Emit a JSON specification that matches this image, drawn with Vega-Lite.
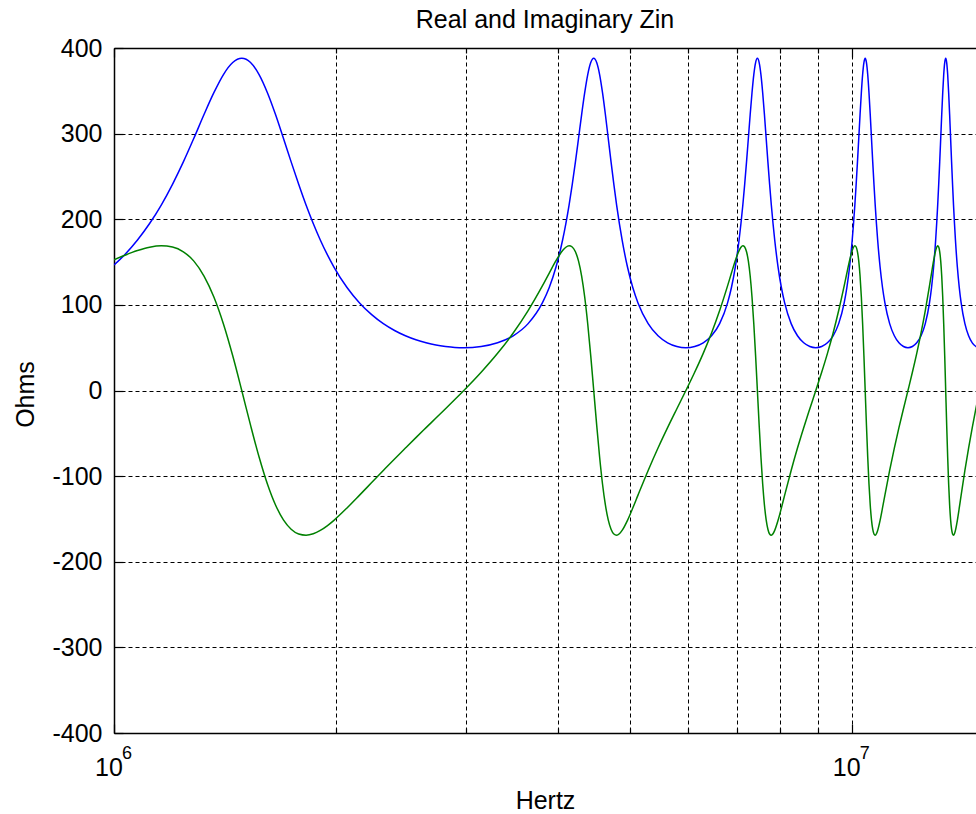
{
  "$schema": "https://vega.github.io/schema/vega-lite/v6.json",
  "width": 862,
  "height": 685,
  "autosize": {"type": "none"},
  "padding": {"left": 114, "top": 48, "right": 0, "bottom": 81},
  "background": "white",
  "title": {"text": "Real and Imaginary Zin", "fontSize": 25, "fontWeight": "normal", "color": "black", "anchor": "middle", "frame": "group", "baseline": "alphabetic", "offset": 8, "dy": 25},
  "config": {"view": {"stroke": null}, "font": "Liberation Sans"},
  "data": {"values": [
    {"f": 1000000, "re": 146.5, "im": 152.7},
    {"f": 1034700, "re": 158.9, "im": 158.0},
    {"f": 1076100, "re": 175.8, "im": 163.4},
    {"f": 1117500, "re": 195.0, "im": 167.3},
    {"f": 1158900, "re": 216.6, "im": 169.0},
    {"f": 1200300, "re": 240.8, "im": 167.6},
    {"f": 1241700, "re": 267.0, "im": 162.0},
    {"f": 1283100, "re": 294.6, "im": 151.1},
    {"f": 1324400, "re": 322.3, "im": 133.7},
    {"f": 1365800, "re": 347.8, "im": 109.2},
    {"f": 1407200, "re": 369.0, "im": 77.7},
    {"f": 1448600, "re": 383.0, "im": 40.5},
    {"f": 1490000, "re": 387.9, "im": 0},
    {"f": 1531400, "re": 383.0, "im": -40.5},
    {"f": 1572800, "re": 369.0, "im": -77.7},
    {"f": 1614200, "re": 347.8, "im": -109.2},
    {"f": 1655600, "re": 322.3, "im": -133.7},
    {"f": 1696900, "re": 294.6, "im": -151.1},
    {"f": 1738300, "re": 267.0, "im": -162.0},
    {"f": 1779700, "re": 240.8, "im": -167.6},
    {"f": 1821100, "re": 216.6, "im": -169.0},
    {"f": 1862500, "re": 195.0, "im": -167.3},
    {"f": 1903900, "re": 175.8, "im": -163.4},
    {"f": 1945300, "re": 158.9, "im": -158.0},
    {"f": 1986700, "re": 144.2, "im": -151.6},
    {"f": 2069400, "re": 120.3, "im": -137.2},
    {"f": 2152200, "re": 102.3, "im": -122.2},
    {"f": 2235000, "re": 88.6, "im": -107.5},
    {"f": 2317800, "re": 78.1, "im": -93.4},
    {"f": 2400600, "re": 70.1, "im": -79.9},
    {"f": 2483300, "re": 63.9, "im": -67.2},
    {"f": 2566100, "re": 59.2, "im": -55.0},
    {"f": 2648900, "re": 55.7, "im": -43.4},
    {"f": 2731700, "re": 53.1, "im": -32.2},
    {"f": 2814400, "re": 51.4, "im": -21.3},
    {"f": 2897200, "re": 50.3, "im": -10.6},
    {"f": 2980000, "re": 50.0, "im": 0},
    {"f": 3145600, "re": 51.4, "im": 21.3},
    {"f": 3311100, "re": 55.7, "im": 43.4},
    {"f": 3476700, "re": 63.9, "im": 67.2},
    {"f": 3642200, "re": 78.1, "im": 93.4},
    {"f": 3807800, "re": 102.3, "im": 122.2},
    {"f": 3890600, "re": 120.3, "im": 137.2},
    {"f": 3973300, "re": 144.2, "im": 151.6},
    {"f": 4056100, "re": 175.8, "im": 163.4},
    {"f": 4097500, "re": 195.0, "im": 167.3},
    {"f": 4138900, "re": 216.6, "im": 169.0},
    {"f": 4180300, "re": 240.8, "im": 167.6},
    {"f": 4221700, "re": 267.0, "im": 162.0},
    {"f": 4263100, "re": 294.6, "im": 151.1},
    {"f": 4304400, "re": 322.3, "im": 133.7},
    {"f": 4345800, "re": 347.8, "im": 109.2},
    {"f": 4387200, "re": 369.0, "im": 77.7},
    {"f": 4428600, "re": 383.0, "im": 40.5},
    {"f": 4470000, "re": 387.9, "im": 0},
    {"f": 4511400, "re": 383.0, "im": -40.5},
    {"f": 4552800, "re": 369.0, "im": -77.7},
    {"f": 4594200, "re": 347.8, "im": -109.2},
    {"f": 4635600, "re": 322.3, "im": -133.7},
    {"f": 4676900, "re": 294.6, "im": -151.1},
    {"f": 4718300, "re": 267.0, "im": -162.0},
    {"f": 4759700, "re": 240.8, "im": -167.6},
    {"f": 4801100, "re": 216.6, "im": -169.0},
    {"f": 4842500, "re": 195.0, "im": -167.3},
    {"f": 4883900, "re": 175.8, "im": -163.4},
    {"f": 4966700, "re": 144.2, "im": -151.6},
    {"f": 5049400, "re": 120.3, "im": -137.2},
    {"f": 5132200, "re": 102.3, "im": -122.2},
    {"f": 5297800, "re": 78.1, "im": -93.4},
    {"f": 5463300, "re": 63.9, "im": -67.2},
    {"f": 5628900, "re": 55.7, "im": -43.4},
    {"f": 5794400, "re": 51.4, "im": -21.3},
    {"f": 5960000, "re": 50.0, "im": 0},
    {"f": 6125600, "re": 51.4, "im": 21.3},
    {"f": 6291100, "re": 55.7, "im": 43.4},
    {"f": 6456700, "re": 63.9, "im": 67.2},
    {"f": 6622200, "re": 78.1, "im": 93.4},
    {"f": 6787800, "re": 102.3, "im": 122.2},
    {"f": 6870600, "re": 120.3, "im": 137.2},
    {"f": 6953300, "re": 144.2, "im": 151.6},
    {"f": 7036100, "re": 175.8, "im": 163.4},
    {"f": 7077500, "re": 195.0, "im": 167.3},
    {"f": 7118900, "re": 216.6, "im": 169.0},
    {"f": 7160300, "re": 240.8, "im": 167.6},
    {"f": 7201700, "re": 267.0, "im": 162.0},
    {"f": 7243100, "re": 294.6, "im": 151.1},
    {"f": 7284400, "re": 322.3, "im": 133.7},
    {"f": 7325800, "re": 347.8, "im": 109.2},
    {"f": 7367200, "re": 369.0, "im": 77.7},
    {"f": 7408600, "re": 383.0, "im": 40.5},
    {"f": 7450000, "re": 387.9, "im": 0},
    {"f": 7491400, "re": 383.0, "im": -40.5},
    {"f": 7532800, "re": 369.0, "im": -77.7},
    {"f": 7574200, "re": 347.8, "im": -109.2},
    {"f": 7615600, "re": 322.3, "im": -133.7},
    {"f": 7656900, "re": 294.6, "im": -151.1},
    {"f": 7698300, "re": 267.0, "im": -162.0},
    {"f": 7739700, "re": 240.8, "im": -167.6},
    {"f": 7781100, "re": 216.6, "im": -169.0},
    {"f": 7822500, "re": 195.0, "im": -167.3},
    {"f": 7863900, "re": 175.8, "im": -163.4},
    {"f": 7946700, "re": 144.2, "im": -151.6},
    {"f": 8029400, "re": 120.3, "im": -137.2},
    {"f": 8112200, "re": 102.3, "im": -122.2},
    {"f": 8277800, "re": 78.1, "im": -93.4},
    {"f": 8443300, "re": 63.9, "im": -67.2},
    {"f": 8608900, "re": 55.7, "im": -43.4},
    {"f": 8774400, "re": 51.4, "im": -21.3},
    {"f": 8940000, "re": 50.0, "im": 0},
    {"f": 9105600, "re": 51.4, "im": 21.3},
    {"f": 9271100, "re": 55.7, "im": 43.4},
    {"f": 9436700, "re": 63.9, "im": 67.2},
    {"f": 9602200, "re": 78.1, "im": 93.4},
    {"f": 9767800, "re": 102.3, "im": 122.2},
    {"f": 9850600, "re": 120.3, "im": 137.2},
    {"f": 9933300, "re": 144.2, "im": 151.6},
    {"f": 10016100, "re": 175.8, "im": 163.4},
    {"f": 10057500, "re": 195.0, "im": 167.3},
    {"f": 10098900, "re": 216.6, "im": 169.0},
    {"f": 10140300, "re": 240.8, "im": 167.6},
    {"f": 10181700, "re": 267.0, "im": 162.0},
    {"f": 10223100, "re": 294.6, "im": 151.1},
    {"f": 10264400, "re": 322.3, "im": 133.7},
    {"f": 10305800, "re": 347.8, "im": 109.2},
    {"f": 10347200, "re": 369.0, "im": 77.7},
    {"f": 10388600, "re": 383.0, "im": 40.5},
    {"f": 10430000, "re": 387.9, "im": 0},
    {"f": 10471400, "re": 383.0, "im": -40.5},
    {"f": 10512800, "re": 369.0, "im": -77.7},
    {"f": 10554200, "re": 347.8, "im": -109.2},
    {"f": 10595600, "re": 322.3, "im": -133.7},
    {"f": 10636900, "re": 294.6, "im": -151.1},
    {"f": 10678300, "re": 267.0, "im": -162.0},
    {"f": 10719700, "re": 240.8, "im": -167.6},
    {"f": 10761100, "re": 216.6, "im": -169.0},
    {"f": 10802500, "re": 195.0, "im": -167.3},
    {"f": 10843900, "re": 175.8, "im": -163.4},
    {"f": 10926700, "re": 144.2, "im": -151.6},
    {"f": 11009400, "re": 120.3, "im": -137.2},
    {"f": 11092200, "re": 102.3, "im": -122.2},
    {"f": 11257800, "re": 78.1, "im": -93.4},
    {"f": 11423300, "re": 63.9, "im": -67.2},
    {"f": 11588900, "re": 55.7, "im": -43.4},
    {"f": 11754400, "re": 51.4, "im": -21.3},
    {"f": 11920000, "re": 50.0, "im": 0},
    {"f": 12085600, "re": 51.4, "im": 21.3},
    {"f": 12251100, "re": 55.7, "im": 43.4},
    {"f": 12416700, "re": 63.9, "im": 67.2},
    {"f": 12582200, "re": 78.1, "im": 93.4},
    {"f": 12747800, "re": 102.3, "im": 122.2},
    {"f": 12830600, "re": 120.3, "im": 137.2},
    {"f": 12913300, "re": 144.2, "im": 151.6},
    {"f": 12996100, "re": 175.8, "im": 163.4},
    {"f": 13037500, "re": 195.0, "im": 167.3},
    {"f": 13078900, "re": 216.6, "im": 169.0},
    {"f": 13120300, "re": 240.8, "im": 167.6},
    {"f": 13161700, "re": 267.0, "im": 162.0},
    {"f": 13203100, "re": 294.6, "im": 151.1},
    {"f": 13244400, "re": 322.3, "im": 133.7},
    {"f": 13285800, "re": 347.8, "im": 109.2},
    {"f": 13327200, "re": 369.0, "im": 77.7},
    {"f": 13368600, "re": 383.0, "im": 40.5},
    {"f": 13410000, "re": 387.9, "im": 0},
    {"f": 13451400, "re": 383.0, "im": -40.5},
    {"f": 13492800, "re": 369.0, "im": -77.7},
    {"f": 13534200, "re": 347.8, "im": -109.2},
    {"f": 13575600, "re": 322.3, "im": -133.7},
    {"f": 13616900, "re": 294.6, "im": -151.1},
    {"f": 13658300, "re": 267.0, "im": -162.0},
    {"f": 13699700, "re": 240.8, "im": -167.6},
    {"f": 13741100, "re": 216.6, "im": -169.0},
    {"f": 13782500, "re": 195.0, "im": -167.3},
    {"f": 13823900, "re": 175.8, "im": -163.4},
    {"f": 13906700, "re": 144.2, "im": -151.6},
    {"f": 13989400, "re": 120.3, "im": -137.2},
    {"f": 14072200, "re": 102.3, "im": -122.2},
    {"f": 14237800, "re": 78.1, "im": -93.4},
    {"f": 14403300, "re": 63.9, "im": -67.2},
    {"f": 14568900, "re": 55.7, "im": -43.4},
    {"f": 14734400, "re": 51.4, "im": -21.3},
    {"f": 14900000, "re": 50.0, "im": 0}
  ]},
  "resolve": {"axis": {"x": "independent", "y": "independent"}},
  "layer": [
    {
      "mark": {"type": "line", "color": "#0000ff", "strokeWidth": 1.5, "interpolate": "monotone", "clip": true},
      "encoding": {
        "x": {
          "field": "f", "type": "quantitative",
          "scale": {"type": "log", "domain": [1000000, 14740000], "nice": false},
          "axis": {
            "orient": "bottom",
            "values": [1000000, 2000000, 3000000, 4000000, 5000000, 6000000, 7000000, 8000000, 9000000, 10000000],
            "grid": true, "gridColor": "black", "gridDash": [4, 3], "gridWidth": 1, "gridOpacity": 1,
            "ticks": true, "tickColor": "black", "tickWidth": 1.2,
            "tickSize": {"condition": {"test": "datum.value == 1000000 || datum.value == 10000000", "value": -9}, "value": -5},
            "labelExpr": "(datum.value == 1000000 || datum.value == 10000000) ? '10' : ''",
            "labelFontSize": 25, "labelColor": "black", "labelBaseline": "alphabetic", "labelPadding": 51,
            "labelOffset": -5.5, "labelAlign": "center", "labelFlush": false, "labelOverlap": false,
            "domain": true, "domainColor": "black", "domainWidth": 1.5,
            "title": "Hertz", "titleFontSize": 25, "titleFontWeight": "normal", "titleColor": "black",
            "titleBaseline": "alphabetic", "titleY": 75
          }
        },
        "y": {
          "field": "re", "type": "quantitative",
          "scale": {"domain": [-400, 400], "nice": false},
          "axis": {
            "orient": "left",
            "values": [-400, -300, -200, -100, 0, 100, 200, 300, 400],
            "grid": true, "gridColor": "black", "gridDash": [4, 3], "gridWidth": 1, "gridOpacity": 1,
            "ticks": true, "tickColor": "black", "tickWidth": 1.2, "tickSize": -9,
            "labelExpr": "'' + datum.value",
            "labelFontSize": 25, "labelColor": "black", "labelPadding": 21, "labelAlign": "right",
            "labelBaseline": "middle", "labelFlush": false, "labelOverlap": false,
            "domain": true, "domainColor": "black", "domainWidth": 1.5,
            "title": "Ohms", "titleFontSize": 25, "titleFontWeight": "normal", "titleColor": "black",
            "titleX": -81, "titleY": 346, "titleBaseline": "alphabetic", "titleAngle": -90, "titleAlign": "center"
          }
        }
      }
    },
    {
      "mark": {"type": "line", "color": "#008000", "strokeWidth": 1.5, "interpolate": "monotone", "clip": true},
      "encoding": {
        "x": {
          "field": "f", "type": "quantitative",
          "scale": {"type": "log", "domain": [1000000, 14740000], "nice": false},
          "axis": {
            "orient": "bottom",
            "values": [1000000, 10000000],
            "grid": false, "ticks": false, "domain": false,
            "labelExpr": "datum.value == 1000000 ? '6' : '7'",
            "labelFontSize": 18, "labelColor": "black", "labelBaseline": "alphabetic", "labelPadding": 25,
            "labelOffset": 12.5, "labelAlign": "center", "labelFlush": false, "labelOverlap": false,
            "title": null
          }
        },
        "y": {"field": "im", "type": "quantitative", "scale": {"domain": [-400, 400], "nice": false}, "axis": null}
      }
    },
    {
      "mark": {"type": "line", "opacity": 0, "clip": true},
      "encoding": {
        "x": {
          "field": "f", "type": "quantitative",
          "scale": {"type": "log", "domain": [1000000, 14740000], "nice": false},
          "axis": {
            "orient": "top",
            "values": [1000000, 2000000, 3000000, 4000000, 5000000, 6000000, 7000000, 8000000, 9000000, 10000000],
            "grid": false, "labels": false,
            "ticks": true, "tickColor": "black", "tickWidth": 1.2,
            "tickSize": {"condition": {"test": "datum.value == 1000000 || datum.value == 10000000", "value": -9}, "value": -5},
            "domain": true, "domainColor": "black", "domainWidth": 1.5,
            "title": null
          }
        },
        "y": {"field": "re", "type": "quantitative", "scale": {"domain": [-400, 400], "nice": false}, "axis": null}
      }
    }
  ]
}
